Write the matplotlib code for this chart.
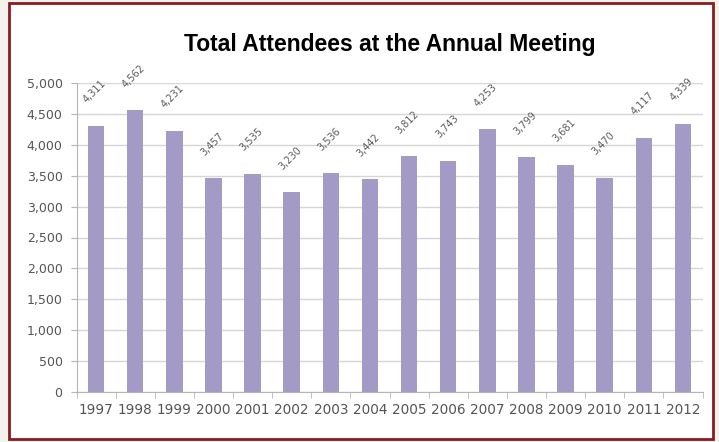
import matplotlib.pyplot as plt
from matplotlib.patches import Rectangle
from matplotlib.ticker import FuncFormatter, MultipleLocator

years = ["1997", "1998", "1999", "2000", "2001", "2002", "2003", "2004",
         "2005", "2006", "2007", "2008", "2009", "2010", "2011", "2012"]
attendees = [4311, 4562, 4231, 3457, 3535, 3230, 3536, 3442,
             3812, 3743, 4253, 3799, 3681, 3470, 4117, 4339]

W, H = 719, 442
fig = plt.figure(figsize=(W / 100, H / 100), dpi=100, facecolor="#f4f2ed")

# white panel with a dark red frame, kept behind the axes
fig.patches.append(Rectangle((9 / W, 3 / H), 704 / W, 436 / H, transform=fig.transFigure,
                             facecolor="white", edgecolor="#8a1c1f", linewidth=2, zorder=-5))

ax = fig.add_axes([76.5 / W, 1 - 392 / H, 626 / W, 309 / H])
ax.set_facecolor("none")

x = range(len(years))
ax.bar(x, attendees, width=0.42, color="#a39ac6", zorder=2)

for xi, v in zip(x, attendees):
    ax.annotate(f"{v:,}", (xi, v), xytext=(-1, 15), textcoords="offset points",
                ha="center", va="bottom", rotation=45, fontsize=7, color="#5a5a5a")

ax.set_xlim(-0.5, len(years) - 0.5)
ax.set_ylim(0, 5000)
ax.yaxis.set_major_locator(MultipleLocator(500))
ax.yaxis.set_major_formatter(FuncFormatter(lambda v, p: f"{int(v):,}"))
ax.set_xticks(list(x))
ax.set_xticklabels(years)
ax.set_xticks([i - 0.5 for i in range(len(years) + 1)], minor=True)

ax.grid(axis="y", color="#d6d6d6", linewidth=1, zorder=0)
for s in ["top", "right"]:
    ax.spines[s].set_visible(False)
for s in ["left", "bottom"]:
    ax.spines[s].set_color("#b5b5b5")
ax.tick_params(axis="y", length=4, color="#b5b5b5", labelsize=9, labelcolor="#555555", pad=6)
ax.tick_params(axis="x", which="major", length=0, labelsize=9.8, labelcolor="#555555", pad=8)
ax.tick_params(axis="x", which="minor", length=4, color="#b5b5b5")

fig.text(390 / W, 1 - 45 / H, "Total Attendees at the Annual Meeting",
         ha="center", va="center", fontsize=16.5, fontweight="bold",
         family="Liberation Sans", color="black")

fig.savefig("out.png", dpi=100, facecolor=fig.get_facecolor())
